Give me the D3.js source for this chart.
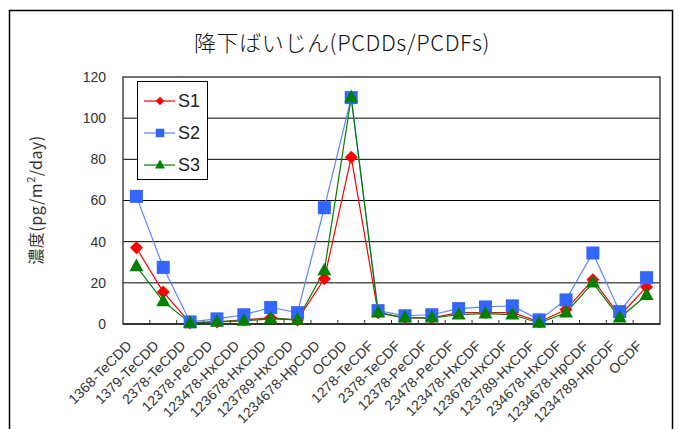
<!DOCTYPE html>
<html><head><meta charset="utf-8">
<script src="https://cdn.jsdelivr.net/npm/d3@7/dist/d3.min.js"></script>
<style>
html,body{margin:0;padding:0;background:#fff;}
svg{display:block;font-family:"Liberation Sans","Noto Sans CJK JP",sans-serif;}
</style></head>
<body><svg id="c" width="678" height="429"></svg>
<script>
const categories = ["1368-TeCDD","1379-TeCDD","2378-TeCDD","12378-PeCDD","123478-HxCDD","123678-HxCDD","123789-HxCDD","1234678-HpCDD","OCDD","1278-TeCDF","2378-TeCDF","12378-PeCDF","23478-PeCDF","123478-HxCDF","123678-HxCDF","123789-HxCDF","234678-HxCDF","1234678-HpCDF","1234789-HpCDF","OCDF"];
const s1 = [37,15.5,0.5,1,2,3,2,22,81,5.5,3,3,5.5,5.5,5.5,1,7,21.5,4,18];
const s2 = [62,27.5,1,2.5,4.5,8,5.5,56.5,110,6.5,4,4.5,7.5,8.3,8.8,2,11.7,34.5,6,22.5];
const s3 = [28,11,0.5,1,1.5,2.5,2,26,110,5.5,3,3,4.5,5,4.5,0.5,5.5,20,3,14];
const yTicks = [0,20,40,60,80,100,120];
const seriesNames = ["S1","S2","S3"];

const svg = d3.select("#c");
const L=123, R=660, T=77, B=324;
const x = d3.scaleBand().domain(categories).range([L,R]);
const y = d3.scaleLinear().domain([0,120]).range([B,T]);

// outer border
svg.append("rect").attr("x",9.5).attr("y",10.5).attr("width",663).attr("height",430)
  .attr("fill","#fff").attr("stroke","#000").attr("stroke-width",1.5);

// title
svg.append("text").attr("x",342).attr("y",51).attr("text-anchor","middle")
  .attr("font-family","'Noto Sans CJK JP',sans-serif").attr("font-size",22).attr("fill","#111")
  .attr("letter-spacing","0.6px").attr("font-weight",300)
  .text("降下ばいじん(PCDDs/PCDFs)");

// gridlines
svg.append("g").selectAll("line").data(yTicks.filter(d=>d>0&&d<120)).join("line")
  .attr("x1",L).attr("x2",R).attr("y1",d=>y(d)).attr("y2",d=>y(d))
  .attr("stroke","#000").attr("stroke-width",1);
// plot border
svg.append("rect").attr("x",L).attr("y",T).attr("width",R-L).attr("height",B-T)
  .attr("fill","none").attr("stroke","#444").attr("stroke-width",1.5);

// y axis
const ya = svg.append("g").attr("transform",`translate(${L},0)`)
  .call(d3.axisLeft(y).tickValues(yTicks).tickSize(0).tickPadding(17));
ya.select(".domain").remove();
ya.selectAll("text").attr("font-size",14).attr("fill","#333").attr("font-family","'Liberation Sans',sans-serif");

// x axis
const xa = svg.append("g").attr("transform",`translate(0,${B})`);
xa.append("line").attr("x1",L).attr("x2",R).attr("stroke","#333").attr("stroke-width",2);
xa.selectAll("line.tk").data(categories.slice(1)).join("line").attr("class","tk")
  .attr("x1",d=>x(d)).attr("x2",d=>x(d)).attr("y1",-4).attr("y2",1).attr("stroke","#333");
xa.selectAll("text").data(categories).join("text")
  .attr("transform",d=>`translate(${x(d)+x.bandwidth()/2-7},19) rotate(-45)`)
  .attr("text-anchor","end").attr("dy","0.35em").attr("font-size",14).attr("fill","#333")
  .attr("letter-spacing","0.2px")
  .text(d=>d);

// y label
svg.append("text").attr("transform","translate(42,200) rotate(-90)").attr("text-anchor","middle")
  .attr("font-size",16).attr("fill","#333").attr("font-family","'Noto Sans CJK JP',sans-serif")
  .attr("letter-spacing","0.5px")
  .html('濃度(pg/m<tspan dy="-7" font-size="11">2</tspan><tspan dy="7">/day)</tspan>');

const cx = (d,i)=>x(categories[i])+x.bandwidth()/2;
const line = d3.line().x((d,i)=>cx(d,i)).y(d=>y(d));

function marker(g,type,size,fill){
  if(type==="diamond"){
    const h=size/2;
    g.append("path").attr("d",`M0,${-h}L${h},0L0,${h}L${-h},0Z`).attr("fill",fill);
  } else if(type==="square"){
    g.append("rect").attr("x",-size/2).attr("y",-size/2).attr("width",size).attr("height",size).attr("fill",fill);
  } else {
    const h=size*0.9;
    g.append("path").attr("d",`M0,${-h*0.62}L${size/2},${h*0.38}L${-size/2},${h*0.38}Z`).attr("fill",fill);
  }
}

const specs = [
  {data:s1,line:"#ff0000",fill:"#ff0000",type:"diamond",size:13},
  {data:s2,line:"#5b86ff",fill:"#3366ff",type:"square",size:13},
  {data:s3,line:"#008000",fill:"#008000",type:"triangle",size:14}
];
specs.forEach(s=>{
  svg.append("path").datum(s.data).attr("d",line).attr("fill","none").attr("stroke",s.line).attr("stroke-width",1.2);
});
specs.forEach(s=>{
  s.data.forEach((v,i)=>{
    const g = svg.append("g").attr("transform",`translate(${cx(v,i)},${y(v)})`);
    marker(g,s.type,s.size,s.fill);
  });
});

// legend
svg.append("rect").attr("x",137.5).attr("y",81.5).attr("width",70).attr("height",98)
  .attr("fill","#fff").attr("stroke","#000").attr("stroke-width",1);
const ly=[101,133,165];
specs.forEach((s,i)=>{
  svg.append("line").attr("x1",144).attr("x2",175).attr("y1",ly[i]).attr("y2",ly[i]).attr("stroke",s.line).attr("stroke-width",1.2);
  const g = svg.append("g").attr("transform",`translate(160,${ly[i]})`);
  marker(g,s.type,s.type==="triangle"?10:8.5,s.fill);
  svg.append("text").attr("x",178).attr("y",ly[i]).attr("dy","0.36em").attr("font-size",18).attr("fill","#222").text(seriesNames[i]);
});
</script></body></html>
